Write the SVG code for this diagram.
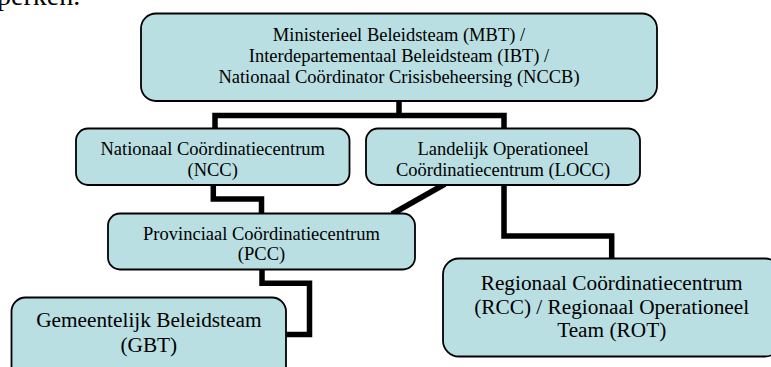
<svg xmlns="http://www.w3.org/2000/svg" width="771" height="367" viewBox="0 0 771 367">
<style>
.box{fill:#b9dfe2;stroke:#000;stroke-width:1.8}
.conn{fill:none;stroke:#000;stroke-width:5.5;stroke-linejoin:miter;stroke-linecap:butt}
text{font-family:'Liberation Serif','Times New Roman',serif;fill:#000}
.t{text-anchor:middle}
.s{font-size:18.5px}
.l{font-size:21.3px}
</style>
<rect width="771" height="367" fill="#fff"/>
<text x="-3" y="5" font-size="28">perken.</text>
<g id="connectors">
<path class="conn" d="M399,101 V115.5 M215,128.5 V115.5 H504 V128.5"/>
<path class="conn" d="M213.3,185 V199 H261.5 V213.5"/>
<path class="conn" d="M445,184 L392,214"/>
<path class="conn" d="M504,185 V236 H611.7 V258.5"/>
<path class="conn" d="M262,269.5 V283.3 H309.5 V334.5 H286"/>
</g>
<g id="mbt">
<rect class="box" x="141" y="13.5" width="516" height="87.5" rx="15"/>
<text class="t s" x="399" y="41">Ministerieel Beleidsteam (MBT) /</text>
<text class="t s" x="399" y="62">Interdepartementaal Beleidsteam (IBT) /</text>
<text class="t s" x="399" y="83">Nationaal Coördinator Crisisbeheersing (NCCB)</text>
</g>
<g id="ncc">
<rect class="box" x="76" y="128.5" width="273.5" height="56.5" rx="12"/>
<text class="t s" x="212.7" y="154.5">Nationaal Coördinatiecentrum</text>
<text class="t s" x="212.7" y="175.5">(NCC)</text>
</g>
<g id="locc">
<rect class="box" x="366" y="128.5" width="274" height="56.5" rx="12"/>
<text class="t s" x="503" y="154.5">Landelijk Operationeel</text>
<text class="t s" x="503" y="175.5">Coördinatiecentrum (LOCC)</text>
</g>
<g id="pcc">
<rect class="box" x="108" y="213.5" width="307" height="56" rx="12"/>
<text class="t s" x="261.5" y="239.5">Provinciaal Coördinatiecentrum</text>
<text class="t s" x="261.5" y="260">(PCC)</text>
</g>
<g id="gbt">
<rect class="box" x="11.5" y="297.5" width="274.5" height="85" rx="14"/>
<text class="t l" x="148.8" y="327">Gemeentelijk Beleidsteam</text>
<text class="t l" x="148.8" y="351.5">(GBT)</text>
</g>
<g id="rcc">
<rect class="box" x="443" y="258.5" width="338" height="98" rx="16"/>
<text class="t l" x="611.7" y="290">Regionaal Coördinatiecentrum</text>
<text class="t l" x="611.7" y="313.5">(RCC) / Regionaal Operationeel</text>
<text class="t l" x="611.7" y="337">Team (ROT)</text>
</g>
</svg>
